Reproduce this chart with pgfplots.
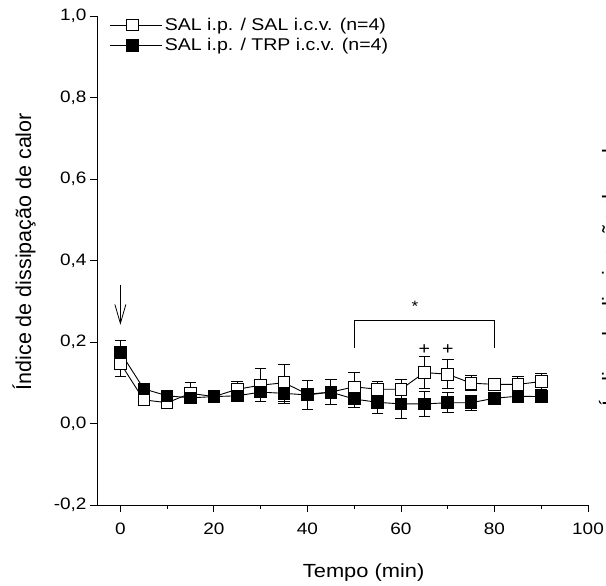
\documentclass[border=0pt]{standalone}
\usepackage{fontspec}
\setmainfont{Liberation Sans}[FakeStretch=1.15]
\newfontfamily\ylabfont{Liberation Sans}
\usepackage{pgfplots}
\usepackage{pgfplotstable}
\pgfplotsset{compat=1.18}
\usetikzlibrary{arrows.meta}

\pgfplotstableread{
x y e
0 0.148 0.033
5 0.058 0.010
10 0.051 0.010
15 0.074 0.026
20 0.066 0.008
25 0.084 0.018
30 0.094 0.040
35 0.100 0.045
40 0.072 0.015
45 0.077 0.015
50 0.090 0.035
55 0.084 0.019
60 0.084 0.024
65 0.125 0.040
70 0.121 0.036
75 0.099 0.018
80 0.096 0.010
85 0.096 0.019
90 0.103 0.020
}\salsal

\pgfplotstableread{
x y e
0 0.175 0.028
5 0.085 0.010
10 0.068 0.008
15 0.063 0.010
20 0.066 0.008
25 0.068 0.010
30 0.077 0.023
35 0.074 0.025
40 0.070 0.035
45 0.077 0.030
50 0.060 0.020
55 0.052 0.027
60 0.048 0.035
65 0.048 0.031
70 0.051 0.024
75 0.051 0.018
80 0.062 0.010
85 0.067 0.010
90 0.066 0.012
}\saltrp

\begin{document}
\begin{tikzpicture}
\begin{axis}[
  scale only axis, width=491bp, height=489bp,
  xmin=-5, xmax=100, ymin=-0.2, ymax=1.0,
  axis x line=bottom, axis y line=left,
  axis line style={-, line width=0.9bp},
  xtick={0,20,40,60,80,100}, minor xtick={10,30,50,70,90},
  ytick={-0.2,0,0.2,0.4,0.6,0.8,1.0},
  tick align=outside, major tick length=7bp, minor tick length=4bp,
  tick style={black, line width=0.9bp},
  /pgf/number format/assume math mode=true,
  yticklabel style={/pgf/number format/.cd, fixed, fixed zerofill, precision=1, use comma},
  ticklabel style={font=\fontsize{16.5bp}{19bp}\selectfont},
  xticklabel style={anchor=base, yshift=-22bp},
  xlabel={Tempo (min)},
  xlabel style={font=\fontsize{19bp}{22bp}\selectfont, at={(axis description cs:0.543,0)}, anchor=base, yshift=-72bp},
  ylabel={Índice de dissipação de calor},
  ylabel style={font=\ylabfont\fontsize{21.5bp}{24bp}\selectfont, at={(axis description cs:-0.1487,0.518)}, anchor=center},
  legend style={at={(axis description cs:0.026,1.0)}, anchor=north west, draw=none, fill=none,
    font=\fontsize{17bp}{20bp}\selectfont, inner sep=0pt, row sep=2.5bp,
    nodes={inner sep=2bp}, cells={anchor=west}},
  legend image code/.code={\path (0bp,0bp) -- (52bp,0bp);
    \draw[mark repeat=2,mark phase=2] plot coordinates {(0bp,0bp) (22bp,0bp) (44bp,0bp)};},
  clip=false,
]
\addplot[black, line width=0.9bp, mark=square*, mark size=5.8bp,
  mark options={fill=white, solid, line width=0.9bp},
  error bars/.cd, y dir=both, y explicit,
  error bar style={line width=0.9bp},
  error mark options={rotate=90, mark size=5.8bp, line width=0.9bp}]
  table[x=x, y=y, y error=e]{\salsal};
\addlegendentry{SAL i.p. / SAL i.c.v. (n=4)}
\addplot[black, line width=0.9bp, mark=square*, mark size=5.8bp,
  mark options={fill=black, solid, line width=0.9bp},
  error bars/.cd, y dir=both, y explicit,
  error bar style={line width=0.9bp},
  error mark options={rotate=90, mark size=5.8bp, line width=0.9bp}]
  table[x=x, y=y, y error=e]{\saltrp};
\addlegendentry{SAL i.p. / TRP i.c.v. (n=4)}

\draw[line width=0.9bp] (axis cs:50,0.185) |- (axis cs:80,0.254) -- (axis cs:80,0.185);
\node[anchor=base, inner sep=0pt, font=\fontsize{15bp}{15bp}\selectfont] at (axis cs:63,0.274) {*};
\node[anchor=base, inner sep=0pt, font=\fontsize{17bp}{17bp}\selectfont] at (axis cs:65,0.170) {+};
\node[anchor=base, inner sep=0pt, font=\fontsize{17bp}{17bp}\selectfont] at (axis cs:70,0.170) {+};
\draw[line width=0.8bp, -{Straight Barb[length=19bp, width=11bp]}] (axis cs:0,0.340) -- (axis cs:0,0.242);
\end{axis}
\coordinate (SW) at (current axis.south west);
\node[rotate=90, anchor=base west, inner sep=0pt, font=\ylabfont\fontsize{21.5bp}{24bp}\selectfont]
  at ([xshift=520.7bp, yshift=98bp]SW) {Índice de dissipação de calor};
\pgfresetboundingbox
\path[use as bounding box] ([xshift=-97bp, yshift=-81bp]SW) rectangle ([xshift=509bp, yshift=505bp]SW);
\end{tikzpicture}
\end{document}
